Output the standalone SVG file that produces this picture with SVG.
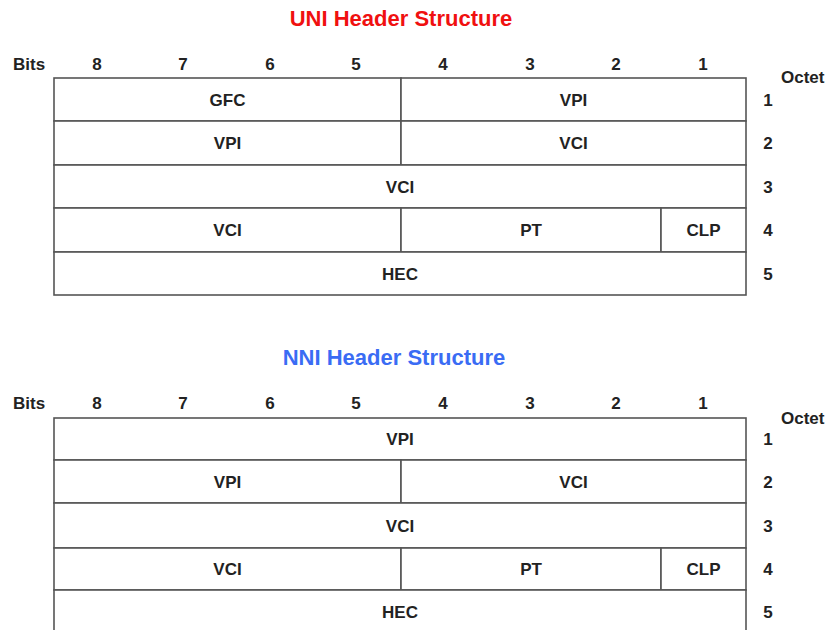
<svg xmlns="http://www.w3.org/2000/svg" width="839" height="630" viewBox="0 0 839 630">
<style>
.t{font-family:"Liberation Sans",Arial,sans-serif;font-weight:bold;font-size:17px;fill:#222;text-anchor:middle}
.ts{font-family:"Liberation Sans",Arial,sans-serif;font-weight:bold;font-size:17px;fill:#222}
.title{font-family:"Liberation Sans",Arial,sans-serif;font-weight:bold;font-size:22px;text-anchor:middle}
.c{fill:#fff;stroke:#555;stroke-width:1.6}
</style>
<rect width="839" height="630" fill="#fff"/>
<text class="title" x="401" y="26" fill="#f01010">UNI Header Structure</text>
<text class="title" x="394" y="365" fill="#3a6cf4">NNI Header Structure</text>

<g id="uni-labels">
<text class="ts" x="13" y="70">Bits</text>
<text class="t" x="97" y="70">8</text><text class="t" x="183" y="70">7</text><text class="t" x="270" y="70">6</text><text class="t" x="356" y="70">5</text>
<text class="t" x="443" y="70">4</text><text class="t" x="530" y="70">3</text><text class="t" x="616" y="70">2</text><text class="t" x="703" y="70">1</text>
<text class="ts" x="781" y="83">Octet</text>
<text class="t" x="768" y="105.5">1</text><text class="t" x="768" y="149">2</text><text class="t" x="768" y="192.5">3</text><text class="t" x="768" y="236">4</text><text class="t" x="768" y="279.5">5</text>
</g>

<g id="uni-gfc"><rect class="c" x="54" y="78" width="347" height="43"/><text class="t" x="227.5" y="105.5">GFC</text></g>
<g id="uni-vpi1"><rect class="c" x="401" y="78" width="345" height="43"/><text class="t" x="573.5" y="105.5">VPI</text></g>
<g id="uni-vpi2"><rect class="c" x="54" y="121" width="347" height="44"/><text class="t" x="227.5" y="149">VPI</text></g>
<g id="uni-vci2"><rect class="c" x="401" y="121" width="345" height="44"/><text class="t" x="573.5" y="149">VCI</text></g>
<g id="uni-vci3"><rect class="c" x="54" y="165" width="692" height="43"/><text class="t" x="400" y="192.5">VCI</text></g>
<g id="uni-vci4"><rect class="c" x="54" y="208" width="347" height="44"/><text class="t" x="227.5" y="236">VCI</text></g>
<g id="uni-pt"><rect class="c" x="401" y="208" width="260" height="44"/><text class="t" x="531" y="236">PT</text></g>
<g id="uni-clp"><rect class="c" x="661" y="208" width="85" height="44"/><text class="t" x="703.5" y="236">CLP</text></g>
<g id="uni-hec"><rect class="c" x="54" y="252" width="692" height="43"/><text class="t" x="400" y="279.5">HEC</text></g>

<g id="nni-labels">
<text class="ts" x="13" y="409">Bits</text>
<text class="t" x="97" y="409">8</text><text class="t" x="183" y="409">7</text><text class="t" x="270" y="409">6</text><text class="t" x="356" y="409">5</text>
<text class="t" x="443" y="409">4</text><text class="t" x="530" y="409">3</text><text class="t" x="616" y="409">2</text><text class="t" x="703" y="409">1</text>
<text class="ts" x="781" y="424">Octet</text>
<text class="t" x="768" y="445">1</text><text class="t" x="768" y="487.5">2</text><text class="t" x="768" y="531.5">3</text><text class="t" x="768" y="575">4</text><text class="t" x="768" y="617.5">5</text>
</g>

<g id="nni-vpi1"><rect class="c" x="54" y="418" width="692" height="42"/><text class="t" x="400" y="445">VPI</text></g>
<g id="nni-vpi2"><rect class="c" x="54" y="460" width="347" height="43"/><text class="t" x="227.5" y="487.5">VPI</text></g>
<g id="nni-vci2"><rect class="c" x="401" y="460" width="345" height="43"/><text class="t" x="573.5" y="487.5">VCI</text></g>
<g id="nni-vci3"><rect class="c" x="54" y="503" width="692" height="45"/><text class="t" x="400" y="531.5">VCI</text></g>
<g id="nni-vci4"><rect class="c" x="54" y="548" width="347" height="42"/><text class="t" x="227.5" y="575">VCI</text></g>
<g id="nni-pt"><rect class="c" x="401" y="548" width="260" height="42"/><text class="t" x="531" y="575">PT</text></g>
<g id="nni-clp"><rect class="c" x="661" y="548" width="85" height="42"/><text class="t" x="703.5" y="575">CLP</text></g>
<g id="nni-hec"><rect class="c" x="54" y="590" width="692" height="44"/><text class="t" x="400" y="617.5">HEC</text></g>
</svg>
